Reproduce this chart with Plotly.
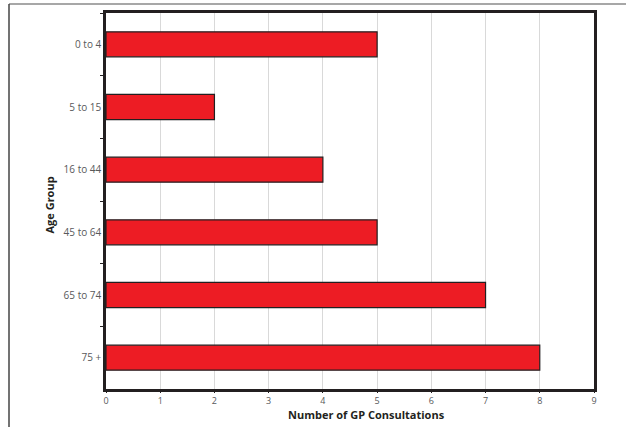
import plotly.graph_objects as go

age_groups = ["0 to 4", "5 to 15", "16 to 44", "45 to 64", "65 to 74", "75 +"]
consultations = [5, 2, 4, 5, 7, 8]
x_ticks = list(range(0, 10))

L, R, T, B = 106, 32, 13, 38
W, H = 626, 427
pw, ph = W - L - R, H - T - B

def px(x):
    return (x - L) / pw

def py(y):
    return (H - B - y) / ph

fig = go.Figure(go.Bar(
    y=age_groups, x=consultations, orientation="h",
    marker=dict(color="#ED1C24", line=dict(color="#231F20", width=1.2)),
    width=0.4,
))

fig.update_layout(
    width=W, height=H,
    margin=dict(l=L, r=R, t=T, b=B),
    paper_bgcolor="white", plot_bgcolor="white",
    font=dict(family="Open Sans", size=10, color="#58595B"),
    showlegend=False,
    shapes=[
        dict(type="line", xref="paper", yref="paper",
             x0=px(9), x1=px(W), y0=py(4), y1=py(4),
             line=dict(color="#8a8a8a", width=1.5)),
        dict(type="line", xref="paper", yref="paper",
             x0=px(9), x1=px(9), y0=py(4), y1=py(H),
             line=dict(color="#444444", width=1.5)),
    ],
    annotations=[
        dict(text="<b>Number of GP Consultations</b>", xref="paper", yref="paper",
             x=px(366), y=py(415), xanchor="center", yanchor="middle",
             showarrow=False, font=dict(size=11, color="#231F20")),
        dict(text="<b>Age Group</b>", xref="paper", yref="paper",
             x=px(48.5), y=py(205), xanchor="center", yanchor="middle",
             textangle=-90, showarrow=False, font=dict(size=11, color="#231F20")),
    ],
)

fig.update_xaxes(
    range=[0, 9], tickvals=x_ticks, ticktext=[str(v) for v in x_ticks],
    tickfont=dict(size=9),
    showgrid=True, gridcolor="#d9d9d9", gridwidth=1,
    showline=True, linecolor="#231F20", linewidth=2.5, mirror=True,
    ticks="outside", ticklen=1, tickcolor="#231F20",
    zeroline=False, automargin=False,
)
fig.update_yaxes(
    autorange="reversed", categoryorder="array", categoryarray=age_groups,
    showgrid=False,
    showline=True, linecolor="#231F20", linewidth=2.5, mirror=True,
    ticks="outside", ticklen=3, tickcolor="#231F20", tickson="boundaries",
    automargin=False,
)

fig.write_html(
    "out.html",
    config={"displayModeBar": False},
    post_script="document.body.style.margin='0';document.body.style.overflow='hidden';",
)
